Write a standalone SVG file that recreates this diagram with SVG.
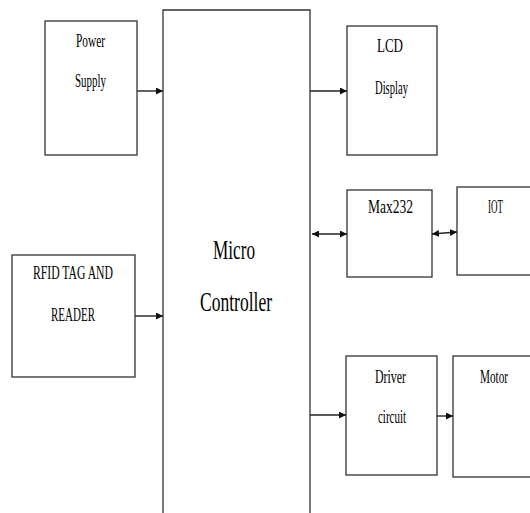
<svg xmlns="http://www.w3.org/2000/svg" width="530" height="513" viewBox="0 0 530 513">
<style>
.box{fill:#fff;stroke:#333;stroke-width:1.3}
.t{font-family:"Liberation Serif","Times New Roman",serif;font-size:18px;fill:#000}
.big{font-family:"Liberation Serif","Times New Roman",serif;font-size:28px;fill:#000}
.c{stroke:#222;stroke-width:1.4;fill:none}
</style>
<defs>
<marker id="ah" viewBox="0 0 10 10" refX="10" refY="5" markerWidth="7" markerHeight="7" markerUnits="userSpaceOnUse" orient="auto-start-reverse">
<path d="M0,0 L10,5 L0,10 Z" fill="#111"/>
</marker>
</defs>
<rect width="530" height="513" fill="#fff"/>
<g id="mc">
<path class="box" d="M163,514 V10 H310 V514"/>
<text class="big" x="213" y="259" textLength="42" lengthAdjust="spacingAndGlyphs">Micro</text>
<text class="big" x="200" y="311" textLength="72" lengthAdjust="spacingAndGlyphs">Controller</text>
</g>
<g id="power">
<rect class="box" x="45" y="21" width="92" height="134"/>
<text class="t" x="76" y="47" textLength="29" lengthAdjust="spacingAndGlyphs">Power</text>
<text class="t" x="75" y="87" textLength="31" lengthAdjust="spacingAndGlyphs">Supply</text>
</g>
<g id="rfid">
<rect class="box" x="12" y="255" width="123" height="122"/>
<text class="t" x="33" y="279" textLength="80" lengthAdjust="spacingAndGlyphs">RFID TAG AND</text>
<text class="t" x="51" y="321" textLength="44" lengthAdjust="spacingAndGlyphs">READER</text>
</g>
<g id="lcd">
<rect class="box" x="347" y="26" width="90" height="129"/>
<text class="t" x="377" y="52" textLength="26" lengthAdjust="spacingAndGlyphs">LCD</text>
<text class="t" x="375" y="94" textLength="33" lengthAdjust="spacingAndGlyphs">Display</text>
</g>
<g id="max232">
<rect class="box" x="347" y="190" width="85" height="87"/>
<text class="t" x="368" y="213" textLength="45" lengthAdjust="spacingAndGlyphs">Max232</text>
</g>
<g id="iot">
<rect class="box" x="457" y="187" width="80" height="88"/>
<text class="t" x="488" y="213" textLength="15" lengthAdjust="spacingAndGlyphs">IOT</text>
</g>
<g id="driver">
<rect class="box" x="346" y="356" width="91" height="119"/>
<text class="t" x="375" y="383" textLength="31" lengthAdjust="spacingAndGlyphs">Driver</text>
<text class="t" x="378" y="423" textLength="28" lengthAdjust="spacingAndGlyphs">circuit</text>
</g>
<g id="motor">
<rect class="box" x="453" y="356" width="84" height="121"/>
<text class="t" x="480" y="383" textLength="28" lengthAdjust="spacingAndGlyphs">Motor</text>
</g>
<g id="connectors">
<line class="c" x1="137" y1="91" x2="163" y2="91" marker-end="url(#ah)"/>
<line class="c" x1="135" y1="316" x2="163" y2="316" marker-end="url(#ah)"/>
<line class="c" x1="310" y1="91" x2="347" y2="91" marker-end="url(#ah)"/>
<line class="c" x1="312" y1="234" x2="347" y2="234" marker-start="url(#ah)" marker-end="url(#ah)"/>
<line class="c" x1="432" y1="234" x2="457" y2="232" marker-start="url(#ah)" marker-end="url(#ah)"/>
<line class="c" x1="310" y1="415" x2="346" y2="415" marker-end="url(#ah)"/>
<line class="c" x1="437" y1="416" x2="453" y2="416" marker-end="url(#ah)"/>
</g>
</svg>
